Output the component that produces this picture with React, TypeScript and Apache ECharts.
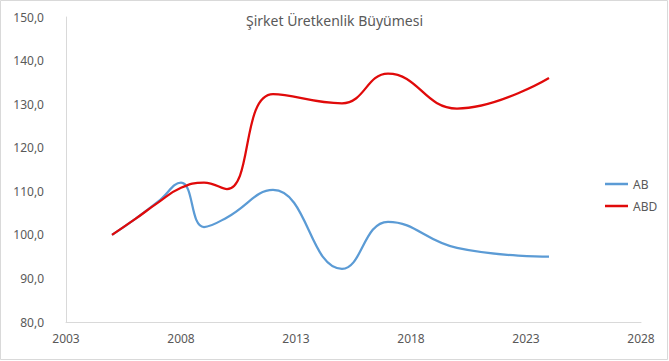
import React, { useEffect, useRef } from "react";
import * as echarts from "echarts";

const years = [2005, 2006, 2007, 2008, 2009, 2010, 2012, 2015, 2017, 2020, 2024];
const abValues = [100, 103.6, 107.6, 112, 101.8, 104, 110.3, 92.2, 103, 97, 95];
const abdValues = [100, 103.6, 107.4, 110.8, 112, 110.5, 132.3, 130.2, 137, 129, 136];
const seriesNames = ["AB", "ABD"];
const titleText = "Şirket Üretkenlik Büyümesi";

const FONT = "'Noto Sans', 'Open Sans', sans-serif";
const TEXT_COLOR = "#595959";

export default function App() {
  const ref = useRef<HTMLDivElement>(null);
  useEffect(() => {
    document.body.style.margin = "0";
    const chart = echarts.init(ref.current!, undefined, { renderer: "svg" });
    const toPairs = (vals: number[]) => years.map((y, i) => [y, vals[i]]);
    chart.setOption({
      animation: false,
      backgroundColor: "#ffffff",
      textStyle: { fontFamily: FONT },
      title: {
        text: titleText,
        left: "center",
        top: 8,
        textStyle: { fontFamily: FONT, fontSize: 14, fontWeight: "normal", color: TEXT_COLOR },
      },
      legend: {
        orient: "vertical",
        left: 600,
        top: 173,
        icon: "rect",
        itemWidth: 23,
        itemHeight: 2.5,
        itemGap: 10,
        textStyle: { fontFamily: FONT, fontSize: 12, color: TEXT_COLOR },
        data: seriesNames,
      },
      grid: { left: 66, right: 28, top: 17, bottom: 39 },
      xAxis: {
        type: "value",
        min: 2003,
        max: 2028,
        interval: 5,
        axisLine: { show: true, lineStyle: { color: "#d9d9d9", width: 1 } },
        axisTick: { show: false },
        splitLine: { show: false },
        axisLabel: {
          color: TEXT_COLOR,
          fontSize: 12,
          fontFamily: FONT,
          margin: 10,
          formatter: (v: number) => String(v),
        },
      },
      yAxis: {
        type: "value",
        min: 80,
        max: 150,
        interval: 10,
        axisLine: { show: true, lineStyle: { color: "#d9d9d9", width: 1 } },
        axisTick: { show: false },
        splitLine: { show: false },
        axisLabel: {
          color: TEXT_COLOR,
          fontSize: 12,
          fontFamily: FONT,
          margin: 22,
          formatter: (v: number) => v.toFixed(1).replace(".", ","),
        },
      },
      series: [
        {
          name: seriesNames[0],
          type: "line",
          data: toPairs(abValues),
          smooth: 0.45,
          symbol: "none",
          lineStyle: { color: "#5b9bd5", width: 2.25 },
          itemStyle: { color: "#5b9bd5" },
          z: 2,
        },
        {
          name: seriesNames[1],
          type: "line",
          data: toPairs(abdValues),
          smooth: 0.45,
          symbol: "none",
          lineStyle: { color: "#e00a0a", width: 2.25 },
          itemStyle: { color: "#e00a0a" },
          z: 3,
        },
      ],
      graphic: [
        {
          type: "rect",
          shape: { x: 0.5, y: 0.5, width: 667, height: 359 },
          style: { fill: "none", stroke: "#d9d9d9", lineWidth: 1 },
          silent: true,
        },
      ],
    });
    return () => chart.dispose();
  }, []);
  return <div ref={ref} style={{ width: 669, height: 361, position: "absolute", left: 0, top: 0 }} />;
}
